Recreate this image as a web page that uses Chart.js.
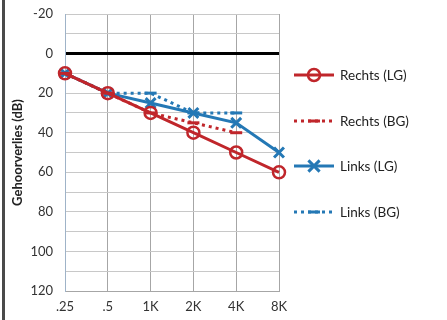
<!DOCTYPE html>
<html>
<head>
<meta charset="utf-8">
<script src="https://cdn.jsdelivr.net/npm/chart.js@4.4.0/dist/chart.umd.min.js"></script>
<style>
  body { margin: 0; background: #fff; }
  #wrap { position: relative; width: 447px; height: 320px; }
  #frame { position: absolute; left: 2px; top: 0; width: 3px; height: 320px; background: #4a4a4a; }
</style>
</head>
<body>
<div id="wrap">
  <canvas id="audiogram" width="447" height="320"></canvas>
  <div id="frame"></div>
</div>
<script>
  // frequencies and hearing loss values (dB)
  const freqs = ['.25', '.5', '1K', '2K', '4K', '8K'];
  const rechtsLG = [10, 20, 30, 40, 50, 60];
  const rechtsBG = [10, 20, 30, 35, 40, null];
  const linksLG = [10, 20, 25, 30, 35, 50];
  const linksBG = [10, 20, 20, 30, 30, null];
  const yTicks = [-20, 0, 20, 40, 60, 80, 100, 120];

  const red = '#c0262b';
  const blue = '#2478b5';
  const fontFam = 'Lato, "Liberation Sans", sans-serif';

  // legend drawn at the right side, line with marker in the middle
  const sideLegend = {
    id: 'sideLegend',
    afterDraw(chart) {
      const ctx = chart.ctx;
      const rows = [75, 121, 166, 212];
      chart.data.datasets.forEach((ds, i) => {
        const y = rows[i];
        ctx.save();
        ctx.strokeStyle = ds.borderColor;
        ctx.lineWidth = 3;
        ctx.setLineDash(ds.borderDash || []);
        ctx.beginPath();
        ctx.moveTo(294, y);
        ctx.lineTo(334, y);
        ctx.stroke();
        ctx.setLineDash([]);
        ctx.lineWidth = ds.pointBorderWidth;
        const cx = 314, r = ds.pointRadius;
        ctx.beginPath();
        if (ds.pointStyle === 'circle') {
          ctx.arc(cx, y, r, 0, Math.PI * 2);
        } else if (ds.pointStyle === 'crossRot') {
          ctx.moveTo(cx - r * 0.8, y - r * 0.8); ctx.lineTo(cx + r * 0.8, y + r * 0.8);
          ctx.moveTo(cx - r * 0.8, y + r * 0.8); ctx.lineTo(cx + r * 0.8, y - r * 0.8);
        } else {
          ctx.moveTo(cx - r, y); ctx.lineTo(cx + r, y);
        }
        ctx.stroke();
        ctx.fillStyle = '#222';
        ctx.font = '13.5px ' + fontFam;
        ctx.textBaseline = 'middle';
        ctx.fillText(ds.label, 340, y + 1);
        ctx.restore();
      });
    }
  };

  new Chart(document.getElementById('audiogram'), {
    type: 'line',
    data: {
      labels: freqs,
      datasets: [
        {
          label: 'Rechts (LG)', data: rechtsLG, borderColor: red, borderWidth: 3,
          pointStyle: 'circle', pointRadius: 6, pointBorderWidth: 2.5,
          pointBackgroundColor: 'rgba(255,255,255,0)', pointBorderColor: red
        },
        {
          label: 'Rechts (BG)', data: rechtsBG, borderColor: red, borderWidth: 3, borderDash: [3, 4],
          pointStyle: 'line', pointRadius: 6, pointBorderWidth: 3, pointBorderColor: red
        },
        {
          label: 'Links (LG)', data: linksLG, borderColor: blue, borderWidth: 3,
          pointStyle: 'crossRot', pointRadius: 7, pointBorderWidth: 3, pointBorderColor: blue
        },
        {
          label: 'Links (BG)', data: linksBG, borderColor: blue, borderWidth: 3, borderDash: [3, 4],
          pointStyle: 'line', pointRadius: 6, pointBorderWidth: 3, pointBorderColor: blue
        }
      ]
    },
    options: {
      responsive: false,
      animation: false,
      layout: { padding: { left: 10, right: 168, top: 14, bottom: 0 } },
      plugins: { legend: { display: false }, tooltip: { enabled: false } },
      scales: {
        x: {
          type: 'category',
          offset: false,
          grid: { color: '#a6a6a6', lineWidth: 1, offset: false, drawTicks: false },
          border: { color: '#a6a6a6' },
          ticks: { color: '#333', font: { family: fontFam, size: 13 }, padding: 8, maxRotation: 0 },
          afterFit(scale) { scale.height = 29; }
        },
        y: {
          reverse: true,
          min: -20,
          max: 120,
          ticks: {
            stepSize: 10,
            color: '#333',
            font: { family: fontFam, size: 13 },
            padding: 12,
            callback: v => yTicks.includes(v) ? String(v) : ''
          },
          grid: {
            drawTicks: false,
            color: c => c.tick && c.tick.value === 0 ? '#000' : '#c8c8c8',
            lineWidth: c => c.tick && c.tick.value === 0 ? 3 : 1
          },
          border: { color: '#9fb3c8' },
          title: {
            display: true, text: 'Gehoorverlies (dB)', color: '#222',
            font: { family: fontFam, size: 13, weight: 'bold' }, padding: { top: 0, bottom: 4 }
          },
          afterFit(scale) { scale.width = 55; scale.paddingTop = 0; scale.paddingBottom = 0; }
        }
      }
    },
    plugins: [sideLegend]
  });
</script>
</body>
</html>
